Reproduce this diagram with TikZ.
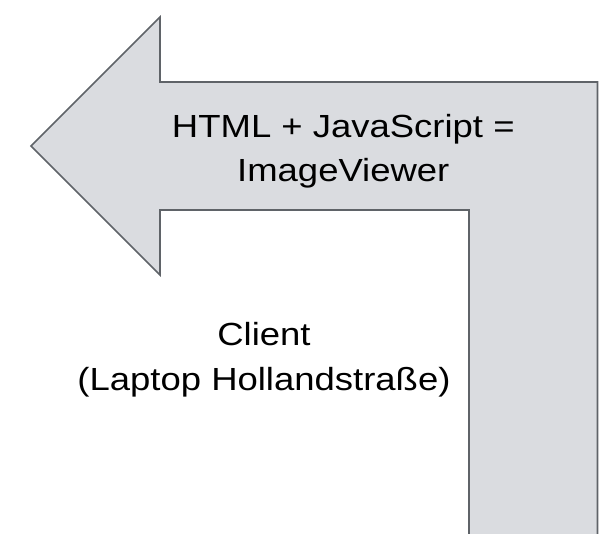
\documentclass[tikz,border=0pt]{standalone}
\usepackage{fontspec}
\setmainfont{Liberation Sans}[FakeStretch=1.14]
\definecolor{shapefill}{HTML}{DADCE0}
\definecolor{shapeline}{HTML}{5F6368}
\tikzset{
  arrowshape/.style={fill=shapefill, draw=shapeline, line width=1.6pt, line join=miter},
  label/.style={font=\fontsize{32}{44.5}\selectfont, align=center, inner sep=0pt, text=black}
}
\begin{document}
\begin{tikzpicture}[x=1pt,y=-1pt]
\useasboundingbox (0,0) rectangle (602,533);
\draw[arrowshape] (31,146) -- (160,17) -- (160,82) -- (597.5,82) -- (597.5,540) -- (469,540) -- (469,210) -- (160,210) -- (160,275) -- cycle;
\node[label, anchor=base] (html) at (343.3,181.7) {HTML + JavaScript =\\ImageViewer};
\node[label, anchor=base] (client) at (264,390) {Client\\(Laptop Hollandstraße)};
\end{tikzpicture}
\end{document}
